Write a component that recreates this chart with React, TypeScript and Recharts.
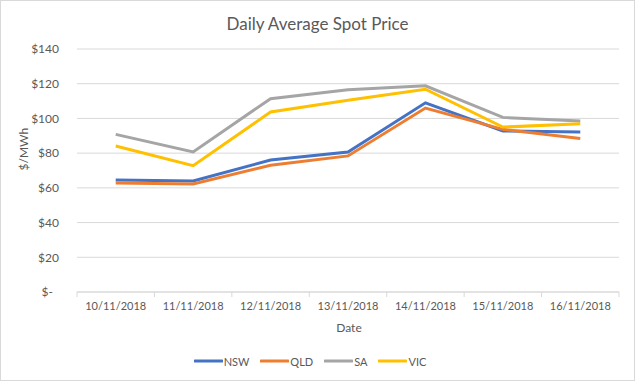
import React from "react";
import {
  CartesianGrid,
  Legend,
  Line,
  LineChart,
  XAxis,
  YAxis,
} from "recharts";

const dates = [
  "10/11/2018",
  "11/11/2018",
  "12/11/2018",
  "13/11/2018",
  "14/11/2018",
  "15/11/2018",
  "16/11/2018",
];
const nsw = [64.5, 64, 76, 80.7, 109, 92.8, 92.2];
const qld = [62.8, 62.2, 73, 78.4, 106, 93.7, 88.5];
const sa = [90.8, 80.7, 111.4, 116.5, 118.8, 100.6, 98.5];
const vic = [84.1, 72.8, 103.7, 110.5, 116.8, 95, 97];
const yTicks = [0, 20, 40, 60, 80, 100, 120, 140];

const chartData = dates.map((date, i) => ({
  date,
  NSW: nsw[i],
  QLD: qld[i],
  SA: sa[i],
  VIC: vic[i],
}));

const FONT = "Lato, 'Open Sans', sans-serif";
const TEXT = "#595959";
const GRID = "#d9d9d9";

function formatDollar(value: number): string {
  return value === 0 ? "$-\u00a0\u00a0" : `$${value}`;
}

// category label plus Excel-style tick marks on the band boundaries
function DateTick(props: any) {
  const { x, y, payload, index } = props;
  const half = payload?.offset || 38.7;
  const last = index === dates.length - 1;
  return (
    <g>
      <line x1={x - half} x2={x - half} y1={y - 8} y2={y - 3} stroke={GRID} />
      {last && (
        <line x1={x + half} x2={x + half} y1={y - 8} y2={y - 3} stroke={GRID} />
      )}
      <text
        x={x}
        y={y + 10}
        textAnchor="middle"
        fill={TEXT}
        fontSize={11}
        fontFamily={FONT}
      >
        {payload.value}
      </text>
    </g>
  );
}

function LegendContent(props: any) {
  const { payload = [] } = props;
  return (
    <div
      style={{
        display: "flex",
        justifyContent: "center",
        alignItems: "center",
        gap: 11,
        height: 28,
      }}
    >
      {payload.map((item: any) => (
        <div
          key={item.value}
          style={{ display: "flex", alignItems: "center", gap: 1 }}
        >
          <svg width={29} height={6}>
            <line
              x1={1}
              x2={28}
              y1={3}
              y2={3}
              stroke={item.color}
              strokeWidth={3}
              strokeLinecap="round"
            />
          </svg>
          <span style={{ color: TEXT, fontSize: 11 }}>{item.value}</span>
        </div>
      ))}
    </div>
  );
}

export default function App() {
  return (
    <div
      style={{
        position: "absolute",
        left: 0,
        top: 0,
        width: 633,
        height: 379,
        border: `1px solid ${GRID}`,
        background: "#fff",
        fontFamily: FONT,
      }}
    >
      <div
        style={{
          position: "absolute",
          top: 12,
          width: "100%",
          textAlign: "center",
          fontSize: 17,
          color: TEXT,
        }}
      >
        Daily Average Spot Price
      </div>
      <div
        style={{
          position: "absolute",
          top: 319,
          left: 77,
          width: 542,
          textAlign: "center",
          fontSize: 12,
          color: TEXT,
        }}
      >
        Date
      </div>
      <LineChart
        width={633}
        height={379}
        data={chartData}
        margin={{ top: 48, right: 15, bottom: 0, left: 0 }}
      >
        <CartesianGrid vertical={false} stroke={GRID} />
        <XAxis
          dataKey="date"
          scale="band"
          stroke={GRID}
          tickLine={false}
          height={60}
          tick={<DateTick />}
          interval={0}
        />
        <YAxis
          domain={[0, 140]}
          ticks={yTicks}
          width={76}
          axisLine={false}
          tickLine={false}
          tickFormatter={formatDollar}
          tick={{ fill: TEXT, fontSize: 12, fontFamily: FONT }}
          tickMargin={12}
          label={{
            value: "$/MWh",
            angle: -90,
            position: "insideLeft",
            dx: 18,
            fill: TEXT,
            fontSize: 12,
            fontFamily: FONT,
          }}
        />
        <Legend
          verticalAlign="bottom"
          content={<LegendContent />}
          wrapperStyle={{ fontFamily: FONT, bottom: 5 }}
        />
        <Line type="linear" dataKey="NSW" stroke="#4472c4" strokeWidth={3} dot={false} isAnimationActive={false} />
        <Line type="linear" dataKey="QLD" stroke="#ed7d31" strokeWidth={3} dot={false} isAnimationActive={false} />
        <Line type="linear" dataKey="SA" stroke="#a5a5a5" strokeWidth={3} dot={false} isAnimationActive={false} />
        <Line type="linear" dataKey="VIC" stroke="#ffc000" strokeWidth={3} dot={false} isAnimationActive={false} />
      </LineChart>
    </div>
  );
}
